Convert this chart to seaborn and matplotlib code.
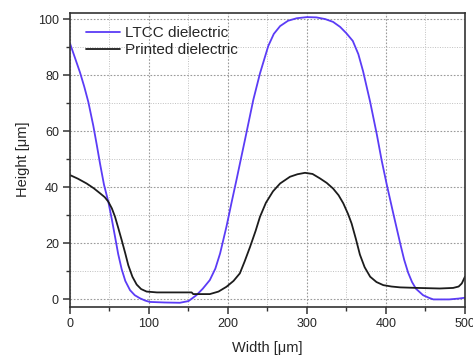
import matplotlib
matplotlib.use("Agg")
from matplotlib import pyplot as plt
from matplotlib.ticker import MultipleLocator
import numpy as np
import pandas as pd
import seaborn as sns

# LTCC dielectric profile (width in um, height in um)
ltcc_x = [0, 6, 12.7, 18, 23.2, 29.5, 34, 38, 43, 48.5, 53, 57, 61, 65.4, 70, 76, 82, 88.6,
          95, 101, 120, 139, 150, 160, 168, 177, 184, 190, 198, 204.6, 211, 216, 221.5,
          232, 240.5, 251, 258, 266, 276, 287, 300, 312, 323, 333, 342, 350, 358, 365,
          371, 380, 388.5, 394.5, 401, 409, 418, 423, 428, 433, 438, 447, 455, 460, 480,
          492, 500]
ltcc_y = [91.4, 86.5, 81, 76, 70.5, 62, 55, 48.5, 41, 34.9, 28.5, 22.4, 16.2, 10.8, 6.6,
          3.3, 1.5, 0.4, -0.4, -0.9, -1.1, -1.2, -0.6, 1.5, 3.8, 6.9, 11, 16.4, 25.9, 34.7,
          43, 49.7, 57, 71.2, 80.7, 90.5, 94.8, 97.6, 99.5, 100.4, 100.8, 100.7, 100.1,
          99.1, 97.3, 95, 92.3, 87.6, 81.5, 70.5, 58.8, 49.7, 41, 31, 20, 14.2, 9.6, 6.2,
          3.8, 1.5, 0.5, 0, 0, 0.3, 0.6]

# printed dielectric profile
printed_x = [0, 10, 21, 30, 38, 44, 48.5, 53, 57, 61, 65.4, 70, 73.8, 79, 84.4, 90, 97, 110,
             154, 156, 177, 188, 198, 207, 215, 221, 228, 235, 240.5, 248, 257, 266, 278.5,
             288, 297.5, 307, 316.5, 325, 333, 340, 346, 352, 356.5, 362, 367, 373, 380,
             388, 396.6, 407, 418, 440, 468, 485, 492, 496, 500]
printed_y = [44.4, 43.1, 41.4, 39.7, 37.9, 36.5, 34.9, 32.5, 29.5, 25.6, 21.2, 16.4, 12.2,
             8.1, 5.3, 3.7, 2.8, 2.5, 2.5, 1.9, 1.9, 2.8, 4.5, 6.6, 9.3, 13.5, 18.8, 24.5,
             29.5, 34.5, 38.6, 41.4, 43.8, 44.7, 45.2, 44.8, 43.2, 41.6, 39.6, 37.2, 34.3,
             30.5, 27.1, 21.5, 16, 11.5, 8.1, 6.2, 5.1, 4.6, 4.3, 4.1, 3.9, 4.1, 4.6, 5.7,
             8.1]

labels = ["LTCC dielectric", "Printed dielectric"]
colors = ["#5b3cf6", "#1c1c1c"]

df = pd.concat([
    pd.DataFrame({"Width": ltcc_x, "Height": ltcc_y, "Series": labels[0]}),
    pd.DataFrame({"Width": printed_x, "Height": printed_y, "Series": labels[1]}),
])

sns.set_style("ticks")
plt.rcParams["font.family"] = ["Liberation Sans", "DejaVu Sans"]

fig = plt.figure(figsize=(4.73, 3.56), dpi=100)
ax = fig.add_axes([0.148, 0.1385, 0.835, 0.826])

sns.lineplot(data=df, x="Width", y="Height", hue="Series", palette=colors,
             sort=False, estimator=None, linewidth=1.3, ax=ax)

ax.set_xlim(0, 500)
ax.set_ylim(-2.6, 102.4)
ax.xaxis.set_major_locator(MultipleLocator(100))
ax.xaxis.set_minor_locator(MultipleLocator(50))
ax.yaxis.set_major_locator(MultipleLocator(20))
ax.yaxis.set_minor_locator(MultipleLocator(10))
ax.grid(True, which="major", linestyle=(0, (1.5, 1.5)), color="#9a9a9a", linewidth=0.8)
ax.grid(True, which="minor", linestyle=(0, (1, 1.5)), color="#c0c0c0", linewidth=0.7)

for s in ax.spines.values():
    s.set_color("#333333")
    s.set_linewidth(1.2)
ax.tick_params(which="major", direction="out", length=5, width=1.1, color="#333333",
               labelsize=9, pad=3)
ax.tick_params(which="minor", direction="out", length=3, width=1.0, color="#333333")

ax.set_xlabel("Width [\u03bcm]", fontsize=10.5, labelpad=8)
ax.set_ylabel("Height [\u03bcm]", fontsize=10.5, labelpad=6)

leg = ax.legend(loc="upper left", frameon=False, fontsize=11, handlelength=2.25,
                handletextpad=0.3, borderaxespad=0.0, labelspacing=0.2,
                bbox_to_anchor=(0.025, 0.975))

fig.savefig("out.png", dpi=100)
